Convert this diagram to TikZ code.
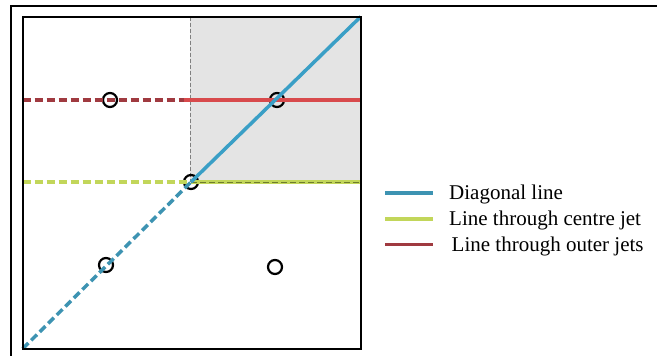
\documentclass[tikz,border=0pt]{standalone}
\usepackage{fontspec}
\setmainfont{Liberation Serif}
\usepackage{xcolor}
\usetikzlibrary{calc}

\definecolor{diagblue}{HTML}{3A9FC6}
\definecolor{diagbluedk}{HTML}{3D93B2}
\definecolor{centregreen}{HTML}{C2D65A}
\definecolor{centregreendk}{HTML}{6E7D2C}
\definecolor{outerred}{HTML}{D84A4C}
\definecolor{outerreddk}{HTML}{A03A40}
\definecolor{boxgray}{HTML}{E4E4E4}

\begin{document}
\begin{tikzpicture}[
  x=1pt, y=-1pt,
  jet/.style={draw, circle, line width=2.2pt, minimum size=14pt, inner sep=0pt},
  frame/.style={draw, line width=2.3pt},
  dashline/.style={dash pattern=on 8pt off 4pt},
  plotline/.style={line width=3.5pt},
  legline/.style={line width=3.8pt},
  leg/.style={anchor=base west, inner sep=0pt, font=\fontsize{21}{25}\selectfont}
]
\useasboundingbox (0,0) rectangle (657,356);
\fill[white] (0,0) rectangle (657,356);
\draw[line width=2pt] (10.5,356) -- (10.5,5.5) -- (657,5.5);

\coordinate (sw) at (22.7,348.7);
\coordinate (ne) at (360.7,16.7);
\coordinate (vtop) at (190,16.7);
\coordinate (vbot) at (190,182);
\coordinate (redl) at (22.7,100);
\coordinate (redm) at (184,100);
\coordinate (redr) at (360.7,100);
\coordinate (greenl) at (22.7,182);
\coordinate (greenr) at (360.7,182);

\fill[boxgray] (vtop) rectangle (greenr);
\draw[gray, line width=0.8pt, dash pattern=on 4pt off 2pt] (vtop) -- (vbot);

\node[jet] (outl) at (110,100) {};
\node[jet] (outr) at (277,100) {};
\node[jet] (centre) at (191,182) {};
\node[jet] (lowl) at (106,265) {};
\node[jet] (lowr) at (275,267) {};

\draw[plotline, dashline, outerreddk] (redl) -- (redm);
\draw[plotline, outerred] (redm) -- (redr);
\draw[plotline, dashline, centregreen] (greenl) -- (centre.center);
\draw[plotline, centregreen] (centre.center) -- (greenr);
\draw[line width=0.8pt, dash pattern=on 6pt off 3pt, centregreendk] (centre.center) -- (greenr);
\draw[plotline, dashline, diagbluedk] (sw) -- (centre.center);
\draw[plotline, diagblue] (centre.center) -- (ne);

\draw[frame] (sw) rectangle (ne);

\coordinate (kdiag) at (385,193);
\coordinate (kdiagend) at (433,193);
\coordinate (kcentre) at (385,219);
\coordinate (kcentreend) at (433,219);
\coordinate (kouter) at (385,244.5);
\coordinate (kouterend) at (433,244.5);
\draw[legline, diagbluedk] (kdiag) -- (kdiagend);
\draw[legline, centregreen] (kcentre) -- (kcentreend);
\draw[legline, outerreddk] (kouter) -- (kouterend);
\node[leg] (tdiag) at (449,199.5) {Diagonal line};
\node[leg] (tcentre) at (449,225.5) {Line through centre jet};
\node[leg] (touter) at (451.5,251) {Line through outer jets};
\end{tikzpicture}
\end{document}
